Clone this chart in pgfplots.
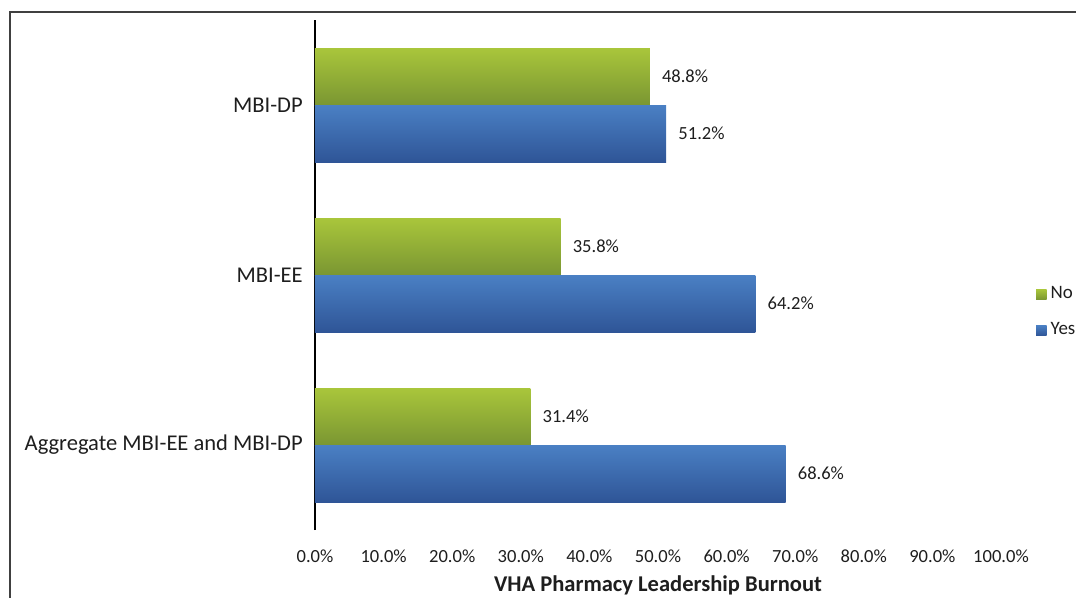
\documentclass[border=0pt]{standalone}
\usepackage{pgfplots}
\pgfplotsset{compat=1.18}
\usepackage{fontspec}
\setmainfont{Carlito}
\definecolor{gtop}{HTML}{A9C63B}
\definecolor{gbot}{HTML}{7A9632}
\definecolor{btop}{HTML}{4A80C4}
\definecolor{bbot}{HTML}{2F5597}
\definecolor{txt}{HTML}{1E1E1E}
\pgfplotsset{
  nobar/.style={draw=none, top color=gtop, bottom color=gbot, bar shift=21.375pt, forget plot},
  yesbar/.style={draw=none, top color=btop, bottom color=bbot, bar shift=-21.375pt, forget plot},
}
\begin{document}
\begin{tikzpicture}
\path[use as bounding box, clip] (-236.25pt,-50.25pt) rectangle (570.75pt,397.5pt);
\draw[line width=0.9pt, color=black!75] (-228.75pt,-120pt) -- (-228.75pt,388.5pt) -- (700pt,388.5pt);
\begin{axis}[
  at={(0pt,0pt)}, anchor=south west,
  scale only axis, width=514.5pt, height=382.5pt,
  xmin=0, xmax=100, ymin=-0.5, ymax=2.5,
  axis x line*=bottom, axis y line*=left,
  x axis line style={draw=none},
  y axis line style={line width=0.9pt, black},
  xtick={0,10,...,100},
  xticklabels={0.0\%,10.0\%,20.0\%,30.0\%,40.0\%,50.0\%,60.0\%,70.0\%,80.0\%,90.0\%,100.0\%},
  ytick={0,1,2},
  yticklabels={Aggregate MBI-EE and MBI-DP, MBI-EE, MBI-DP},
  major tick length=0pt,
  xticklabel style={font=\fontsize{13.9pt}{16pt}\selectfont, text=txt, anchor=base, inner sep=0pt, yshift=-24pt},
  yticklabel style={font=\fontsize{16.9pt}{19pt}\selectfont, text=txt, anchor=east, inner sep=0pt, xshift=-9pt},
  xbar, bar width=42.75pt,
  nodes near coords={\pgfmathprintnumber[fixed,fixed zerofill,precision=1,assume math mode=true]{\pgfplotspointmeta}\%},
  nodes near coords align=horizontal,
  every node near coord/.append style={font=\fontsize{13.9pt}{16pt}\selectfont, text=txt, anchor=west, inner sep=0pt, xshift=9pt},
  legend style={at={(rel axis cs:1.051,0.4265)}, anchor=west, draw=none, fill=none, inner sep=0pt,
    font=\fontsize{14.2pt}{16pt}\selectfont, text=txt, row sep=14.5pt,
    nodes={inner sep=0pt, text height=9.5pt, text depth=3pt},
    /tikz/every even column/.append style={column sep=3.5pt}},
  legend cell align=left,
  legend image code/.code={\path[#1, draw=none] (0pt,-3.9pt) rectangle (7.8pt,3.9pt);},
  clip=false,
]
\addlegendimage{draw=none, top color=gtop, bottom color=gbot}
\addlegendimage{draw=none, top color=btop, bottom color=bbot}
\addplot[nobar] coordinates {(31.4,0)};
\addplot[nobar] coordinates {(35.8,1)};
\addplot[nobar] coordinates {(48.8,2)};
\addplot[yesbar] coordinates {(68.6,0)};
\addplot[yesbar] coordinates {(64.2,1)};
\addplot[yesbar] coordinates {(51.2,2)};
\legend{\hspace{3pt}No, \hspace{3pt}Yes}
\end{axis}
\node[anchor=base, inner sep=0pt, font=\fontsize{16.9pt}{19pt}\selectfont\bfseries, text=txt] at (257.25pt,-45.75pt) {VHA Pharmacy Leadership Burnout};
\end{tikzpicture}
\end{document}
